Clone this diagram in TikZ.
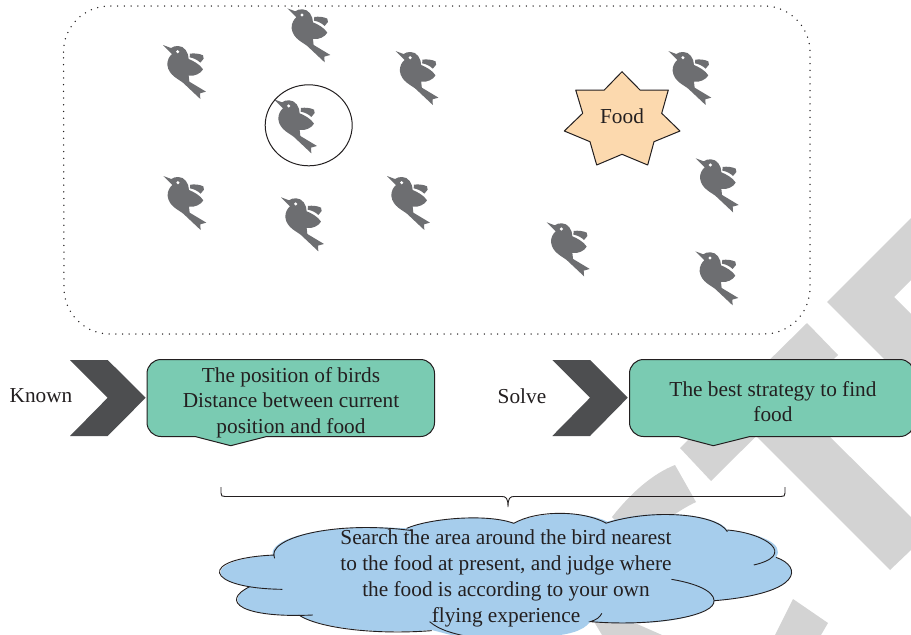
\documentclass[tikz,border=0pt]{standalone}
\usepackage{fontspec}
\setmainfont{Liberation Serif}
\definecolor{wm}{HTML}{D3D3D3}
\definecolor{birdc}{HTML}{6D6E71}
\definecolor{chev}{HTML}{4D4E50}
\definecolor{boxg}{HTML}{7ACBB2}
\definecolor{foodc}{HTML}{FCD9AE}
\definecolor{cloudc}{HTML}{A6CDEC}
\definecolor{ink}{HTML}{231F20}
\tikzset{
  txt/.style={text=ink,font=\fontsize{21.3}{25.5}\selectfont,align=center,inner sep=0pt},
  cloudtxt/.style={text=ink,font=\fontsize{21.3}{26}\selectfont,align=center,inner sep=0pt},
  outl/.style={draw=ink,line width=1pt,line join=round},
  bird/.pic={
    \begin{scope}[x=.3333pt,y=-.3333pt,shift={(-38,-45)}]
      \fill[birdc] (38,45) -- (62,54) .. controls (72,46) and (95,44) .. (106,60)
        .. controls (112,68) and (115,78) .. (115,87)
        .. controls (128,92) and (150,104) .. (158,118)
        .. controls (152,130) and (132,140) .. (115,137)
        -- (117,155) -- (167,185) -- (149,190) -- (150,207) -- (100,160)
        .. controls (88,148) and (55,138) .. (51,105)
        .. controls (50,90) and (58,78) .. (65,72) -- cycle;
      \fill[birdc] (119,71) .. controls (132,69) and (148,71) .. (158,76)
        -- (160,86) -- (150,98) .. controls (142,90) and (130,84) .. (118,82) -- cycle;
      \fill[white] (82,65) circle (5);
    \end{scope}
  }
}
\begin{document}
\begin{tikzpicture}[x=1pt,y=-1pt]
\useasboundingbox (0,0) rectangle (911,635);
\fill[white] (0,0) rectangle (911,635);
% watermark
\fill[wm] (911,218) -- (827,302) -- (911,386) -- (911,314) -- (894,297) -- (911,280) -- cycle;
\fill[wm] (807,323) -- (838,355) -- (711,481) -- (680,448) -- cycle;
\fill[wm] (757,437) -- (890,570) -- (911,550) -- (911,517) -- (830,437) -- cycle;
\fill[wm] (675,465) .. controls (652,474) and (630,494) .. (612,517) -- (640,545)
   .. controls (655,528) and (675,512) .. (696,502) -- cycle;
\fill[wm] (793,599) -- (828,623) -- (821,635) -- (775,635) -- cycle;
\fill[wm] (593,620) -- (628,620) -- (662,635) -- (602,635) -- cycle;
% search space
\draw[ink,line width=1.5pt,line cap=round,dash pattern=on 0pt off 6.7pt]
  (63.5,52) arc[start angle=180,end angle=270,radius=46] -- (764,6) arc[start angle=270,end angle=360,radius=46]
  -- (810,288) arc[start angle=0,end angle=90,radius=46] -- (110,334) arc[start angle=90,end angle=180,radius=46] -- cycle;
% birds
\foreach \bx/\by in {163/45,287.3/8.3,395.5/51,274/99.3,163.3/176,281/197.3,387/176,668.3/51,695.7/158.3,546.7/222.3,695.3/251.3}
  \pic at (\bx,\by) {bird};
\draw[ink,line width=1pt] (308.7,125.3) ellipse (43.5 and 40.5);
% food
\draw[outl,fill=foodc] (622,71.7) -- (640,90) -- (668.3,90) -- (661.7,113.3) -- (680,131) -- (654,141.7)
  -- (647.7,165) -- (622,154.3) -- (596.7,165) -- (590,141.7) -- (564.3,131) -- (582.7,113.3) -- (575.7,90) -- (604.3,90) -- cycle;
\node[txt] (food) at (622,116) {Food};
% chevrons
\fill[chev] (70,360) -- (107.7,360) -- (145.7,397.7) -- (107.7,436) -- (70,436) -- (107.7,397.7) -- cycle;
\fill[chev] (552.3,360) -- (590,360) -- (627.7,397.7) -- (590,436) -- (552.3,436) -- (590,397.7) -- cycle;
\node[txt] (known) at (41,396) {Known};
\node[txt] (solve) at (522,396) {Solve};
% boxes
\draw[outl,fill=boxg] (161,359.5) -- (420.5,359.5) arc[start angle=270,end angle=360,radius=14] -- (434.5,422.5)
  arc[start angle=0,end angle=90,radius=14] -- (266.7,436.5) -- (230.7,445.7) -- (195,436.5) -- (161,436.5)
  arc[start angle=90,end angle=180,radius=14] -- (147,373.5) arc[start angle=180,end angle=270,radius=14] -- cycle;
\draw[outl,fill=boxg] (643.5,359.5) -- (900,359.5) arc[start angle=270,end angle=360,radius=14] -- (914,422.5)
  arc[start angle=0,end angle=90,radius=14] -- (750,436.5) -- (713.3,445.7) -- (678.3,436.5) -- (643.5,436.5)
  arc[start angle=90,end angle=180,radius=14] -- (629.5,373.5) arc[start angle=180,end angle=270,radius=14] -- cycle;
\node[txt] (boxa) at (291,402.5) {The position of birds\\Distance between current\\position and food};
\node[txt] (boxb) at (773,401.5) {The best strategy to find\\food};
% brace
\draw[ink,line width=.9pt] (221,487) -- (221,493) .. controls (221,496) and (222,496.5) .. (225,496.5)
  -- (502,496.5) .. controls (506,496.5) and (508,498) .. (508,507)
  .. controls (508,498) and (510,496.5) .. (514,496.5) -- (781,496.5)
  .. controls (784,496.5) and (785,496) .. (785,493) -- (785,487);
% cloud
\begin{scope}[shift={(200,480)},x=.3827pt,y=-.3333pt]
  \fill[cloudc] (190,225) .. controls (180,180) and (300,130) .. (540,145)
    .. controls (600,115) and (750,100) .. (820,130)
    .. controls (880,95) and (1000,90) .. (1065,125)
    .. controls (1180,85) and (1350,100) .. (1378,150)
    .. controls (1460,160) and (1530,190) .. (1505,232)
    .. controls (1575,260) and (1575,340) .. (1345,362)
    .. controls (1345,400) and (1220,445) .. (1020,425)
    .. controls (1000,455) and (960,465) .. (900,470)
    -- (680,470) .. controls (650,465) and (625,455) .. (605,450)
    .. controls (460,465) and (300,440) .. (258,405)
    .. controls (130,410) and (50,370) .. (130,320)
    .. controls (20,300) and (20,240) .. (190,225) -- cycle;
  \draw[ink,line width=.9pt]
    (195,235) .. controls (170,175) and (350,120) .. (555,152)
    (540,145) .. controls (600,115) and (750,100) .. (820,130)
    (820,130) .. controls (880,90) and (1000,90) .. (1062,130)
    (1060,130) .. controls (1180,85) and (1350,100) .. (1378,155)
    (1378,150) .. controls (1480,160) and (1560,225) .. (1447,255)
    (1505,232) .. controls (1575,260) and (1575,340) .. (1345,362)
    (1232,298) .. controls (1320,315) and (1350,345) .. (1342,370)
       .. controls (1330,410) and (1180,440) .. (1020,425) .. controls (1035,420) and (1045,412) .. (1050,400)
    (600,425) .. controls (625,450) and (660,460) .. (700,470)
    (605,452) .. controls (460,465) and (310,445) .. (258,405)
    (295,405) .. controls (110,415) and (50,365) .. (130,320)
    (215,328) .. controls (10,325) and (-10,235) .. (195,225);
\end{scope}
\node[cloudtxt] (cloudt) at (506,578) {Search the area around the bird nearest\\to the food at present, and judge where\\the food is according to your own\\flying experience};
\end{tikzpicture}
\end{document}
